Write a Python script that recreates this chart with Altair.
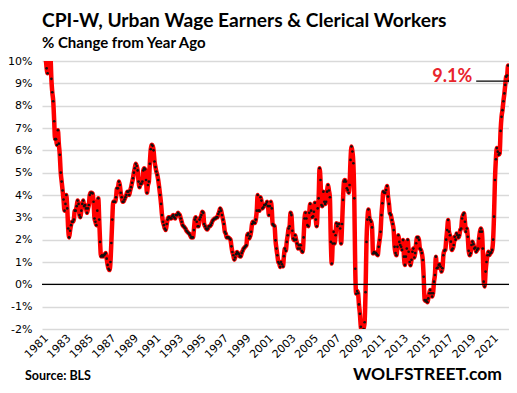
import altair as alt
import pandas as pd

# CPI-W, % change from year ago, monthly, Jan 1981 .. Jul 2022
cpiw_1980s = [
    12.0, 11.4, 10.6, 10.2, 10.1, 9.67, 9.45, 10.8, 11.0, 10.4, 9.2, 8.6,   # 1981
    8.2, 7.3, 6.5, 6.5, 6.24, 6.9, 6.3, 5.8, 5.0, 4.6, 4.2, 3.8,           # 1982
    3.3, 3.6, 4.0, 3.4, 2.5, 2.1, 2.4, 2.65, 2.8, 2.8, 2.9, 3.3,           # 1983
    3.3, 3.5, 3.75, 3.6, 3.1, 3.0, 3.3, 3.6, 3.75, 3.5, 3.55, 3.4,         # 1984
    3.2, 3.4, 3.55, 4.0, 4.1, 4.1, 4.07, 3.7, 2.95, 2.8, 2.65, 3.3,        # 1985
    3.85, 2.9, 1.9, 1.25, 1.3, 1.25, 1.3, 1.35, 1.4, 1.15, 0.87, 0.7,      # 1986
    0.64, 1.0, 1.85, 2.9, 3.7, 3.7, 3.7, 3.9, 4.3, 4.3, 4.6, 4.45,         # 1987
    4.1, 3.9, 3.7, 3.7, 3.8, 3.9, 4.0, 4.15, 4.15, 4.0, 4.2, 4.35,         # 1988
    4.55, 4.75, 5.0, 5.2, 5.4, 5.3, 5.1, 4.6, 4.35, 4.5, 4.5, 4.6,         # 1989
]
cpiw_1990s = [
    5.1, 5.2, 5.15, 4.67, 4.1, 4.45, 4.6, 5.4, 6.05, 6.25, 6.2, 6.0,       # 1990
    5.5, 5.25, 5.05, 4.9, 4.67, 4.35, 4.0, 3.6, 3.1, 2.8, 2.65, 2.5,       # 1991
    2.43, 2.7, 2.9, 3.0, 3.0, 2.95, 2.95, 3.05, 3.1, 3.0, 2.95, 3.1,       # 1992
    3.1, 3.2, 3.15, 3.1, 2.95, 2.8, 2.65, 2.6, 2.55, 2.5, 2.4, 2.35,       # 1993
    2.3, 2.27, 2.2, 2.1, 2.1, 2.1, 2.43, 2.9, 3.0, 2.8, 2.6, 2.6,          # 1994
    2.9, 3.0, 3.1, 3.25, 3.2, 2.7, 2.6, 2.5, 2.45, 2.5, 2.6, 2.6,          # 1995
    2.65, 2.75, 2.85, 2.9, 2.95, 2.95, 3.0, 3.0, 3.15, 3.25, 3.4, 3.3,     # 1996
    3.1, 2.9, 2.7, 2.35, 2.27, 2.1, 2.1, 2.1, 2.05, 2.0, 1.7, 1.45,        # 1997
    1.3, 1.1, 1.2, 1.35, 1.45, 1.4, 1.35, 1.25, 1.25, 1.4, 1.5, 1.6,       # 1998
    1.65, 1.7, 1.75, 2.2, 2.27, 2.05, 2.15, 2.35, 2.7, 2.8, 2.75, 2.75,    # 1999
]
cpiw_2000s = [
    2.9, 3.3, 4.0, 3.3, 3.3, 3.9, 3.75, 3.4, 3.45, 3.55, 3.55, 3.6,        # 2000
    3.7, 3.5, 3.1, 3.5, 3.7, 3.4, 2.7, 2.65, 2.6, 1.97, 1.6, 1.3,          # 2001
    1.0, 0.93, 0.78, 1.0, 0.9, 0.8, 1.26, 1.6, 1.5, 1.9, 2.2, 2.5,         # 2002
    2.6, 3.2, 3.1, 2.4, 2.05, 1.98, 2.2, 2.0, 1.83, 1.6, 1.75, 1.6,        # 2003
    1.75, 1.5, 1.45, 2.1, 2.95, 3.2, 2.95, 2.65, 2.6, 3.2, 3.6, 3.3,       # 2004
    3.0, 3.05, 3.25, 3.65, 2.9, 2.6, 3.4, 3.85, 5.2, 4.67, 3.55, 3.5,      # 2005
    4.15, 3.7, 3.6, 3.7, 4.15, 4.45, 4.2, 3.9, 1.9, 0.93, 1.83, 2.35,      # 2006
    1.83, 2.2, 2.73, 2.6, 2.7, 2.7, 2.5, 1.83, 2.7, 3.78, 4.6, 4.67,       # 2007
    4.6, 4.3, 4.22, 4.1, 4.45, 5.57, 6.17, 5.95, 5.42, 3.85, 0.7, -0.42,   # 2008
    -0.3, -0.4, -0.9, -1.32, -1.9, -2.1, -2.5, -2.0, -1.7, -0.35, 1.9, 2.9,  # 2009
]
cpiw_2010s = [
    3.35, 3.0, 2.88, 2.8, 2.55, 1.38, 1.45, 1.4, 1.41, 1.35, 1.3, 1.68,    # 2010
    1.98, 2.35, 3.1, 3.63, 4.15, 4.1, 4.1, 4.22, 4.4, 3.93, 3.6, 3.18,     # 2011
    3.1, 2.88, 2.7, 2.43, 1.68, 1.4, 1.3, 1.68, 2.2, 1.9, 1.76, 1.68,      # 2012
    1.54, 1.98, 1.24, 0.87, 1.24, 1.6, 1.99, 1.46, 1.0, 0.85, 1.1, 1.46,   # 2013
    1.6, 1.2, 1.4, 1.84, 2.1, 2.1, 1.99, 1.6, 1.54, 1.4, 1.09, 0.34,       # 2014
    -0.7, -0.75, -0.7, -0.8, -0.63, -0.4, -0.25, -0.4, -0.55, -0.4, 0.12, 0.42,  # 2015
    1.24, 0.72, 0.75, 0.87, 0.9, 0.8, 0.57, 0.72, 1.3, 1.5, 1.54, 2.0,     # 2016
    2.43, 2.88, 2.36, 2.2, 1.91, 1.54, 1.6, 1.76, 2.13, 2.0, 2.28, 2.2,    # 2017
    2.1, 2.2, 2.43, 2.5, 2.95, 3.1, 3.18, 2.8, 2.36, 2.5, 2.13, 1.5,       # 2018
    1.3, 1.39, 1.76, 1.91, 1.8, 1.6, 1.65, 1.46, 1.54, 1.6, 2.05, 2.36,    # 2019
]
cpiw_2020s = [
    2.5, 2.36, 1.6, 0.12, -0.1, 0.57, 1.0, 1.3, 1.46, 1.31, 1.39, 1.43,    # 2020
    1.54, 2.0, 3.03, 4.67, 5.6, 6.1, 5.94, 5.8, 5.87, 6.87, 7.5, 7.8,      # 2021
    8.2, 8.55, 8.93, 9.3, 9.35, 9.8, 9.1,                                  # 2022 Jan-Jul
]

x_tick_years = list(range(1981, 2022, 2))
y_ticks = list(range(-2, 11))
last_label = "9.1%"
last_value = 9.1

values = cpiw_1980s + cpiw_1990s + cpiw_2000s + cpiw_2010s + cpiw_2020s
dates = pd.date_range("1981-01-01", periods=len(values), freq="MS")
df = pd.DataFrame({"date": dates.strftime("%Y-%m-%dT00:00:00"), "value": values})

W, H = 467, 268
AXIS_FONT = "DejaVu Sans"

x_scale = alt.Scale(domain=[alt.DateTime(year=1981, month=1, date=1),
                            alt.DateTime(year=2022, month=7, date=1)], nice=False)
x_axis = alt.Axis(
    values=[alt.DateTime(year=y, month=1, date=1) for y in x_tick_years],
    format="%Y", labelAngle=-45, grid=False, domain=False, ticks=False,
    labelOverlap=False, labelPadding=3, labelFont=AXIS_FONT,
    labelFontSize=11, labelColor="black", title=None,
)
y_scale = alt.Scale(domain=[-2, 10], nice=False, zero=False)
y_axis = alt.Axis(
    values=y_ticks, labelExpr="datum.value + '%'", grid=True,
    gridColor="#d9d9d9", gridWidth=1.3, domain=False, ticks=False,
    labelOverlap=False, labelPadding=10, labelFont=AXIS_FONT,
    labelFontSize=11, labelColor="black", title=None,
)


def X(field):
    return alt.X(field, scale=x_scale, axis=x_axis)


def Y(field):
    return alt.Y(field, scale=y_scale, axis=y_axis)


base = alt.Chart(df)
line = base.mark_line(color="#ff0000", strokeWidth=4.5, clip=True,
                      interpolate="monotone").encode(x=X("date:T"), y=Y("value:Q"))
dots = base.mark_point(filled=True, color="#111111", size=7, opacity=1,
                       clip=True).encode(x=X("date:T"), y=Y("value:Q"))

zero = alt.Chart(pd.DataFrame({"y": [0]})).mark_rule(
    color="black", strokeWidth=1.3).encode(y=Y("y:Q"))

ann_df = pd.DataFrame({
    "x": ["2019-08-01T00:00:00"], "x2": ["2023-02-01T00:00:00"],
    "y": [last_value], "label": [last_label],
})
ann_rule = alt.Chart(ann_df).mark_rule(color="black", strokeWidth=1.3).encode(
    x=X("x:T"), x2="x2:T", y=Y("y:Q"))
ann_text = alt.Chart(ann_df).mark_text(
    align="right", baseline="middle", color="#e8242c", fontSize=18,
    fontWeight="bold", font="Lato", dx=-4, dy=-4).encode(
    x=X("x:T"), y=Y("y:Q"), text="label:N")

src = alt.Chart(pd.DataFrame({"t": ["Source: BLS"]})).mark_text(
    align="left", baseline="alphabetic", font="Lato", fontSize=12.5,
    fontWeight="bold", color="black").encode(
    x=alt.value(-17), y=alt.value(319), text="t:N")
brand = alt.Chart(pd.DataFrame({"t": ["WOLFSTREET.com"]})).mark_text(
    align="right", baseline="alphabetic", font="Lato", fontSize=17.5,
    fontWeight="bold", color="black").encode(
    x=alt.value(460), y=alt.value(319), text="t:N")

chart = alt.layer(line, dots, zero, ann_rule, ann_text, src, brand).properties(
    width=W, height=H,
    autosize=alt.AutoSizeParams(type="none"),
    padding={"left": 34, "top": 53, "right": 0, "bottom": 56},
    title=alt.TitleParams(
        text="CPI-W, Urban Wage Earners & Clerical Workers",
        subtitle="% Change from Year Ago",
        anchor="start", frame="group", font="Lato", fontSize=19.2,
        fontWeight="bold", color="black",
        subtitleFont="Lato", subtitleFontSize=15, subtitleFontWeight="bold",
        subtitleColor="black", subtitlePadding=5, offset=4,
    ),
).configure_view(strokeWidth=0)

chart.save("out.html", embed_options={"renderer": "svg", "actions": False})
